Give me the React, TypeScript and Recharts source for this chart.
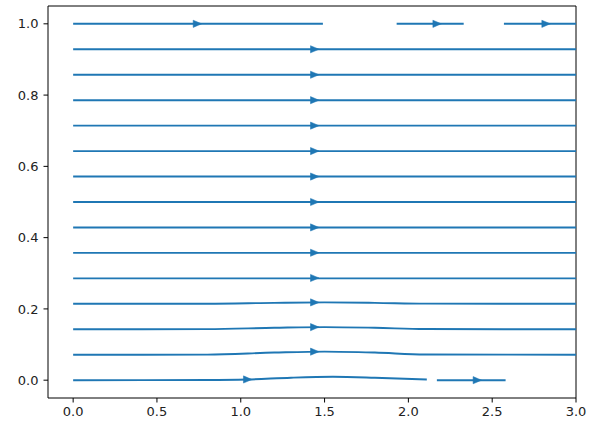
import React from 'react';
import { ComposedChart, Line, Scatter, XAxis, YAxis, ReferenceArea } from 'recharts';

const xTicks = [0, 0.5, 1.0, 1.5, 2.0, 2.5, 3.0];
const yTicks = [0, 0.2, 0.4, 0.6, 0.8, 1.0];

// bottom streamline (two pieces)
const stream0a = [
  { x: 0, y: 0 }, { x: 0.8, y: 0.0005 }, { x: 1.04, y: 0.002 }, { x: 1.3, y: 0.007 },
  { x: 1.55, y: 0.0095 }, { x: 1.8, y: 0.007 }, { x: 2.11, y: 0.002 },
];
const stream0b = [{ x: 2.17, y: 0 }, { x: 2.58, y: 0 }];

// slightly bulged lower streamlines
const stream1 = [
  { x: 0, y: 0.0714 }, { x: 0.8, y: 0.0718 }, { x: 1.2, y: 0.0775 }, { x: 1.5, y: 0.0802 },
  { x: 1.8, y: 0.0775 }, { x: 2.1, y: 0.0722 }, { x: 3.0, y: 0.0714 },
];
const stream2 = [
  { x: 0, y: 0.1429 }, { x: 0.8, y: 0.1432 }, { x: 1.2, y: 0.1470 }, { x: 1.5, y: 0.1490 },
  { x: 1.8, y: 0.1470 }, { x: 2.1, y: 0.1435 }, { x: 3.0, y: 0.1429 },
];
const stream3 = [
  { x: 0, y: 0.2143 }, { x: 0.8, y: 0.2145 }, { x: 1.2, y: 0.2170 }, { x: 1.5, y: 0.2183 },
  { x: 1.8, y: 0.2170 }, { x: 2.1, y: 0.2147 }, { x: 3.0, y: 0.2143 },
];

// straight streamlines
const flatLevels = [0.2857, 0.3571, 0.4286, 0.5, 0.5714, 0.6429, 0.7143, 0.7857, 0.8571, 0.9286];
const flatStart = 0;
const flatEnd = 3.0;

// top streamline (three pieces)
const stream14a = [{ x: 0, y: 1.0 }, { x: 1.49, y: 1.0 }];
const stream14b = [{ x: 1.93, y: 1.0 }, { x: 2.33, y: 1.0 }];
const stream14c = [{ x: 2.57, y: 1.0 }, { x: 3.0, y: 1.0 }];

// arrow heads
const arrowPoints = [
  { x: 1.04, y: 0.002 }, { x: 2.41, y: 0 },
  { x: 1.44, y: 0.0800 }, { x: 1.44, y: 0.1489 }, { x: 1.44, y: 0.2182 },
  { x: 1.44, y: 0.2868 }, { x: 1.44, y: 0.3576 }, { x: 1.44, y: 0.4286 }, { x: 1.44, y: 0.5 },
  { x: 1.44, y: 0.5714 }, { x: 1.44, y: 0.6429 }, { x: 1.44, y: 0.7143 }, { x: 1.44, y: 0.7857 },
  { x: 1.44, y: 0.8571 }, { x: 1.44, y: 0.9286 },
  { x: 0.74, y: 1.0 }, { x: 2.17, y: 1.0 }, { x: 2.82, y: 1.0 },
];

const C0 = '#1f77b4';

const segments: { x: number; y: number }[][] = [
  stream0a, stream0b, stream1, stream2, stream3,
  ...flatLevels.map((v) => [{ x: flatStart, y: v }, { x: flatEnd, y: v }]),
  stream14a, stream14b, stream14c,
];

const ArrowHead = (props: any) => {
  const { cx, cy } = props;
  if (cx == null || cy == null) return null;
  const p = `${cx + 4.5},${cy} ${cx - 4},${cy - 3.6} ${cx - 4},${cy + 3.6}`;
  return <polygon points={p} fill={C0} stroke={C0} strokeWidth={0.5} />;
};

const tickStyle = { fontFamily: 'DejaVu Sans', fontSize: 13, fill: '#222' };

export default function App() {
  return (
    <div style={{ position: 'absolute', left: 0, top: 0, background: '#fff' }}>
      <ComposedChart width={593} height={428} margin={{ top: 6, right: 17, bottom: 0, left: 0 }}>
        <XAxis
          type="number"
          dataKey="x"
          domain={[-0.15, 3.0]}
          ticks={xTicks}
          allowDataOverflow
          tickFormatter={(v: number) => v.toFixed(1)}
          tick={tickStyle}
          tickSize={4.5}
          tickMargin={4}
          axisLine={false}
          tickLine={{ stroke: '#000' }}
          height={30}
        />
        <YAxis
          type="number"
          dataKey="y"
          domain={[-0.05, 1.05]}
          ticks={yTicks}
          allowDataOverflow
          tickFormatter={(v: number) => v.toFixed(1)}
          tick={tickStyle}
          tickSize={4.5}
          tickMargin={5}
          axisLine={false}
          tickLine={{ stroke: '#000' }}
          width={48}
        />
        {segments.map((seg, i) => (
          <Line
            key={i}
            data={seg}
            dataKey="y"
            type="monotone"
            stroke={C0}
            strokeWidth={1.9}
            dot={false}
            activeDot={false}
            isAnimationActive={false}
            legendType="none"
          />
        ))}
        <Scatter data={arrowPoints} dataKey="y" shape={<ArrowHead />} isAnimationActive={false} legendType="none" />
        <ReferenceArea x1={-0.15} x2={3.0} y1={-0.05} y2={1.05} fill="none" stroke="#000" strokeWidth={1} ifOverflow="visible" />
      </ComposedChart>
    </div>
  );
}
